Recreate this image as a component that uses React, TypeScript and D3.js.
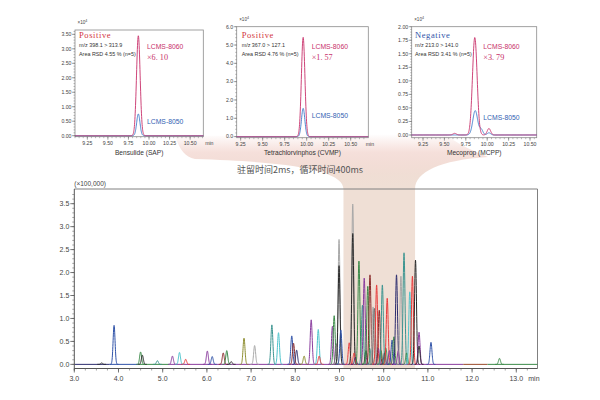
import React from "react";
import * as d3 from "d3";

// ---------- main chromatogram data ----------
const mainPeakTimes = [
  3.62, 3.9, 4.5, 4.54, 4.88, 5.22, 5.38, 5.52, 6.01, 6.12, 6.37, 6.45, 6.55,
  6.84, 7.08, 7.47, 7.62, 7.92, 7.96, 8.03, 8.2, 8.36, 8.52, 8.54, 8.84, 8.88,
  8.93, 8.99, 8.99, 9.03, 9.22, 9.3, 9.3, 9.33, 9.36, 9.44, 9.52, 9.56, 9.6,
  9.64, 9.69, 9.72, 9.76, 9.79, 9.84, 9.88, 9.9, 9.94, 9.97, 10.02, 10.05,
  10.08, 10.13, 10.19, 10.23, 10.29, 10.33, 10.39, 10.46, 10.52, 10.59, 10.65,
  10.72, 10.8, 10.8, 11.07, 12.62,
];
const mainPeakHeights = [
  0.03, 0.85, 0.27, 0.2, 0.08, 0.18, 0.26, 0.11, 0.29, 0.17, 0.25, 0.3, 0.06,
  0.57, 0.41, 0.86, 0.69, 0.62, 0.46, 0.31, 0.18, 0.97, 0.76, 0.18, 0.83, 1.06,
  0.45, 2.72, 2.15, 0.75, 0.47, 3.49, 2.85, 0.25, 0.15, 2.25, 1.29, 1.88, 0.3,
  1.7, 1.95, 0.35, 1.25, 1.22, 1.73, 0.35, 1.18, 0.3, 1.73, 0.25, 0.35,
  1.44, 0.3, 0.53, 0.6, 1.95, 0.3, 1.92, 2.43, 0.25, 1.58, 1.92,
  2.27, 0.7, 0.4, 0.48, 0.13,
];
const mainPeakSeries = [
  "black", "blue", "green", "black", "teal", "purple", "cyan", "red", "purple", "blue", "darkred", "green", "black",
  "olive", "lightgray", "teal", "cyan", "blue", "darkred", "navy", "olive", "purple", "cyan", "red", "purple", "green",
  "gray", "lightgray", "black", "blue", "red", "lightgray", "black", "red", "navy", "green", "teal", "purple", "darkgreen",
  "green", "darkred", "teal", "lightgray", "gray", "red", "purple", "darkred", "green", "teal", "navy", "green",
  "red", "purple", "blue", "green", "navy", "purple", "lightgray", "teal", "green", "cyan", "red",
  "black", "purple", "black", "blue", "green",
];
const baselineBreaks = [3.0, 3.8, 4.45, 5.15, 11.8, 12.35, 13.48];
const baselineSeries = ["navy", "blue", "green", "purple", "brown", "green"];
const mainXTicks = [3, 4, 5, 6, 7, 8, 9, 10, 11, 12, 13];
const mainYTicks = [0, 0.5, 1, 1.5, 2, 2.5, 3, 3.5];
const highlightWindow = [9.09, 10.71];
const noteText = "驻留时间2ms，循环时间400ms";
const mainYUnit = "(×100,000)";

// ---------- inset data ----------
const insetNames = ["Bensulide (SAP)", "Tetrachlorvinphos (CVMP)", "Mecoprop (MCPP)"];
const insetModes = ["Positive", "Positive", "Negative"];
const insetTransitions = ["m/z 398.1 > 313.9", "m/z 367.0 > 127.1", "m/z 213.0 > 141.0"];
const insetRSD = ["Area RSD 4.55 % (n=5)", "Area RSD 4.76 % (n=5)", "Area RSD 3.41 % (n=5)"];
const insetGains = ["×6. 10", "×1. 57", "×3. 79"];
const insetXTicks = [9.25, 9.5, 9.75, 10.0, 10.25, 10.5];
const insetYTicks = [
  [0, 0.5, 1, 1.5, 2, 2.5, 3, 3.5],
  [0, 1, 2, 3, 4, 5, 6],
  [0, 0.25, 0.5, 0.75, 1, 1.25, 1.5, 1.75, 2],
];
// peaks: [retention time, height, width]
const insetPeaks8060 = [
  [[9.87, 3.45, 0.022]],
  [[9.96, 5.42, 0.02]],
  [[9.62, 0.03, 0.02], [9.855, 1.8, 0.027], [10.02, 0.12, 0.02]],
];
const insetPeaks8050 = [
  [[9.87, 0.75, 0.02]],
  [[9.96, 1.54, 0.019]],
  [[9.86, 0.45, 0.028], [9.93, 0.1, 0.02], [10.02, 0.04, 0.02]],
];

// ---------- styles ----------
const palette: Record<string, string> = {
  black: "#2b2b2b",
  blue: "#2f52a8",
  green: "#3a8a48",
  teal: "#3a9490",
  purple: "#8a3c9e",
  cyan: "#4cc4cc",
  red: "#e83a3a",
  darkred: "#8a2a2a",
  olive: "#8c8c2c",
  lightgray: "#a8a8a8",
  gray: "#707070",
  navy: "#2c2c6e",
  darkgreen: "#2a5a30",
  brown: "#9a4a2a",
};
const sans = "'Liberation Sans', Arial, sans-serif";
const col8060 = "#c8306a";
const col8050 = "#3a78c8";

const insetLayout = [
  { x0: 75, x1: 203.3, y0: 30, y1: 136.7, xd: [9.1, 10.66], yd: [-0.035, 3.65], digits: 2, yMinor: 0.1, min: true, tx: 79, gx: 147, l50: 124.2 },
  { x0: 236.7, x1: 368.3, y0: 26.7, y1: 137.7, xd: [9.205, 10.7], yd: [-0.06, 6.0], digits: 1, yMinor: 0.2, min: true, tx: 241.7, gx: 311.7, l50: 117.5 },
  { x0: 411.7, x1: 536.7, y0: 26.7, y1: 137.7, xd: [9.118, 10.578], yd: [-0.05, 2.0], digits: 2, yMinor: 0.05, min: false, tx: 415, gx: 483.3, l50: 120 },
];

const gauss = (t: number, c: number, h: number, s: number) => h * Math.exp(-0.5 * ((t - c) / s) ** 2);
const sumPeaks = (peaks: number[][], t: number) => peaks.reduce((a, p) => a + gauss(t, p[0], p[1], p[2]), 0);

function Inset({ i }: { i: number }) {
  const L = insetLayout[i];
  const xs = d3.scaleLinear().domain(L.xd).range([L.x0, L.x1]);
  const ys = d3.scaleLinear().domain(L.yd).range([L.y1, L.y0]);
  const sample = d3.range(L.xd[0], L.xd[1] + 1e-9, 0.002);
  const trace = (peaks: number[][]) =>
    d3.line<number>().x((t) => xs(t)).y((t) => ys(sumPeaks(peaks, t)))(sample) || "";
  const yMinor = d3.range(0, L.yd[1] + 1e-9, L.yMinor);
  const xMinor = d3.range(Math.ceil(L.xd[0] * 20) / 20, L.xd[1], 0.05);
  const modeColor = insetModes[i] === "Positive" ? "#d2343c" : "#3052a8";
  return (
    <g>
      <rect x={L.x0} y={L.y0} width={L.x1 - L.x0} height={L.y1 - L.y0} fill="none" stroke="#8a8a8a" strokeWidth={0.8} />
      {yMinor.map((v, k) => (
        <line key={"ym" + k} x1={L.x0 - 1.5} x2={L.x0} y1={ys(v)} y2={ys(v)} stroke="#777" strokeWidth={0.5} />
      ))}
      {insetYTicks[i].map((v) => (
        <g key={"y" + v}>
          <line x1={L.x0 - 3} x2={L.x0} y1={ys(v)} y2={ys(v)} stroke="#666" strokeWidth={0.6} />
          <text x={L.x0 - 3.5} y={ys(v)} dy="0.35em" textAnchor="end" fontSize={5.2} fontFamily={sans} fill="#444">
            {v.toFixed(L.digits)}
          </text>
        </g>
      ))}
      {xMinor.map((v, k) => (
        <line key={"xm" + k} x1={xs(v)} x2={xs(v)} y1={L.y1} y2={L.y1 + 1.5} stroke="#777" strokeWidth={0.5} />
      ))}
      {insetXTicks.map((v) => (
        <g key={"x" + v}>
          <line x1={xs(v)} x2={xs(v)} y1={L.y1} y2={L.y1 + 3} stroke="#666" strokeWidth={0.6} />
          <text x={xs(v)} y={L.y1 + 8.5} textAnchor="middle" fontSize={5.2} fontFamily={sans} fill="#444">
            {v.toFixed(2)}
          </text>
        </g>
      ))}
      {L.min && (
        <text x={xs(10.5) + 15} y={L.y1 + 8.5} fontSize={5.2} fontFamily={sans} fill="#444">min</text>
      )}
      <text x={L.x0 + 2.5} y={L.y0 - 6} fontSize={4.6} fontFamily={sans} fill="#444">
        ×10<tspan dy={-1.8} fontSize={3.6}>4</tspan>
      </text>
      <path d={trace(insetPeaks8050[i])} fill="none" stroke={col8050} strokeWidth={0.9} />
      <path d={trace(insetPeaks8060[i])} fill="none" stroke={col8060} strokeWidth={0.9} />
      <text x={L.tx} y={37.5} fontSize={8.5} fontFamily="'Liberation Serif', 'DejaVu Serif', serif" letterSpacing={0.6} fill={modeColor}>
        {insetModes[i]}
      </text>
      <text x={L.tx} y={47.2} fontSize={5.4} fontFamily={sans} fill="#333">{insetTransitions[i]}</text>
      <text x={L.tx} y={55.6} fontSize={5.4} fontFamily={sans} fill="#333">{insetRSD[i]}</text>
      <text x={L.gx} y={49.3} fontSize={6.8} fontFamily={sans} fill={col8060}>LCMS-8060</text>
      <text x={L.gx} y={60} fontSize={8.2} fontFamily="'Liberation Serif', 'DejaVu Serif', serif" fill={col8060}>{insetGains[i]}</text>
      <text x={L.gx} y={L.l50} fontSize={6.8} fontFamily={sans} fill="#3262b2">LCMS-8050</text>
      <text x={(L.x0 + L.x1) / 2} y={154.5} textAnchor="middle" fontSize={6.6} fontFamily={sans} fill="#333">
        {insetNames[i]}
      </text>
    </g>
  );
}

export default function App() {
  const xM = d3.scaleLinear().domain([3.0, 13.48]).range([74.3, 537.5]);
  const yM = d3.scaleLinear().domain([-0.09, 3.82]).range([368.5, 189]);
  const top = yM(3.82);
  const bottom = yM(-0.09);
  const left = xM(3.0);
  const right = xM(13.48);
  const SIG = 0.022;

  const peakPath = (t: number, h: number) => {
    const pts = d3.range(t - 4.5 * SIG, t + 4.5 * SIG + 1e-9, SIG / 8);
    return d3.line<number>().x((u) => xM(u)).y((u) => yM(gauss(u, t, h, SIG)))(pts) || "";
  };

  const bx0 = xM(highlightWindow[0]);
  const bx1 = xM(highlightWindow[1]);
  const funnel =
    `M 175,136 C 180,150 185,157 195,159 C 300,162 ${bx0},172 ${bx0},${top} L ${bx0},${bottom} L ${bx1},${bottom} ` +
    `L ${bx1},${top} C ${bx1},172 440,160 488,157 C 470,150 455,142 445,134 Z`;

  const yMinor = d3.range(0, 3.8, 0.1);
  const xMinor = d3.range(3.0, 13.48, 0.25);

  return (
    <svg width={600} height={400} style={{ position: "absolute", left: 0, top: 0, background: "#fff" }}>
      <defs>
        <linearGradient id="fun" gradientUnits="userSpaceOnUse" x1={0} y1={134} x2={0} y2={186}>
          <stop offset="0" stopColor="#eec4bd" stopOpacity={0} />
          <stop offset="0.35" stopColor="#efcbc3" stopOpacity={0.6} />
          <stop offset="0.8" stopColor="#efdcd2" stopOpacity={0.95} />
          <stop offset="1" stopColor="#efdfd5" stopOpacity={1} />
        </linearGradient>
      </defs>
      <rect x={0} y={0} width={600} height={400} fill="#fff" />
      <path d={funnel} fill="url(#fun)" />

      {[0, 1, 2].map((i) => (
        <Inset key={i} i={i} />
      ))}

      <text x={237} y={172.5} fontSize={9} fontFamily="'Noto Sans CJK SC', sans-serif" fill="#555">
        {noteText}
      </text>

      {/* main frame */}
      <line x1={left} x2={right} y1={top} y2={top} stroke="#808080" strokeWidth={1} />
      <line x1={right} x2={right} y1={top} y2={bottom} stroke="#808080" strokeWidth={1} />

      {/* baseline */}
      {baselineSeries.map((c, k) => (
        <line key={"b" + k} x1={xM(baselineBreaks[k])} x2={xM(baselineBreaks[k + 1])} y1={yM(0)} y2={yM(0)} stroke={palette[c]} strokeWidth={1} />
      ))}

      {/* peaks */}
      {mainPeakTimes.map((t, k) => (
        <path key={"p" + k} d={peakPath(t, mainPeakHeights[k])} fill="none" stroke={palette[mainPeakSeries[k]]} strokeWidth={1} strokeLinejoin="round" />
      ))}

      {/* axes */}
      <line x1={left} x2={left} y1={top} y2={bottom + 2} stroke="#555" strokeWidth={1} />
      <line x1={left} x2={right} y1={bottom} y2={bottom} stroke="#555" strokeWidth={1} />
      {yMinor.map((v, k) => (
        <line key={"ym" + k} x1={left - 2} x2={left} y1={yM(v)} y2={yM(v)} stroke="#666" strokeWidth={0.6} />
      ))}
      {mainYTicks.map((v) => (
        <g key={"yt" + v}>
          <line x1={left - 4} x2={left} y1={yM(v)} y2={yM(v)} stroke="#555" strokeWidth={0.8} />
          <text x={left - 5} y={yM(v)} dy="0.35em" textAnchor="end" fontSize={7} fontFamily={sans} fill="#444">
            {v.toFixed(1)}
          </text>
        </g>
      ))}
      {xMinor.map((v, k) => (
        <line key={"xm" + k} x1={xM(v)} x2={xM(v)} y1={bottom} y2={bottom + 2} stroke="#666" strokeWidth={0.6} />
      ))}
      {mainXTicks.map((v) => (
        <g key={"xt" + v}>
          <line x1={xM(v)} x2={xM(v)} y1={bottom} y2={bottom + 4} stroke="#555" strokeWidth={0.8} />
          <text x={xM(v)} y={bottom + 12.5} textAnchor="middle" fontSize={7} fontFamily={sans} fill="#444">
            {v.toFixed(1)}
          </text>
        </g>
      ))}
      <text x={xM(13) + 12} y={bottom + 12.5} fontSize={7} fontFamily={sans} fill="#444">min</text>
      <text x={left} y={top - 3} fontSize={6.5} fontFamily={sans} fill="#444">{mainYUnit}</text>
    </svg>
  );
}
